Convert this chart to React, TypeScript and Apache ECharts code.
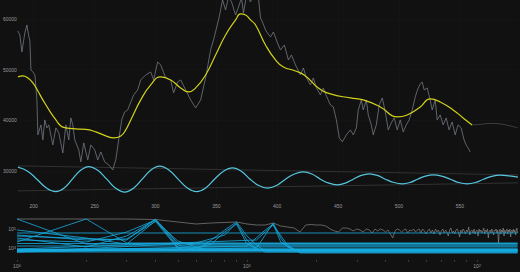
import React, { useEffect, useRef } from "react";
import * as echarts from "echarts";

// ---------- top panel data ----------
const topXTicks = [200, 250, 300, 350, 400, 450, 500, 550];
const topYTicks = [30000, 40000, 50000, 60000];

const rawSeries: [number, number][] = [
  [187, 57640], [188.6, 56850], [190.3, 53490], [192.7, 57240], [194.4, 58820], [196, 56450], [196.8, 55860],
  [197.7, 49940], [199.3, 49540], [201, 48950], [202.6, 44020], [203.4, 37110], [205.9, 39080], [207.5, 36120],
  [209.1, 40070], [210.8, 38490], [212.4, 39080], [215.7, 35130], [218.2, 38490], [220.6, 37500], [223.9, 33550],
  [226.4, 39080], [228.8, 36120], [230.5, 40460], [232.1, 39080], [233.7, 36120], [237, 34150], [238.7, 31780],
  [241.1, 35530], [244.4, 32170], [246.9, 35130], [250.1, 34150], [252.6, 32170], [255.1, 33750], [258.3, 31780],
  [261.6, 31180], [264.9, 30200], [267.4, 32170], [269.8, 36120], [272.3, 40070], [274.7, 41650], [277.2, 42040],
  [278.8, 43030], [282.1, 45000], [285.4, 45990], [287.9, 47960], [292, 48950], [296.1, 49540], [298.5, 47960],
  [301.8, 51520], [304.3, 50920], [308.4, 48360], [312.5, 47960], [314.9, 45400], [318.2, 47570], [320.7, 47960],
  [324.8, 45990], [328.9, 44020], [333, 42440], [337.1, 44020], [341.2, 48360], [345.3, 53890], [347.7, 55860],
  [351.8, 59810], [353.5, 61780], [355.1, 63760], [357.6, 61780], [360.1, 64350], [362.5, 63360], [365.8, 60790],
  [368.2, 62370], [370.7, 64150], [372.3, 61190], [374.8, 64740], [378.1, 63360], [381.3, 65330], [384.6, 64150],
  [386.3, 60200], [387.9, 59410], [390.4, 57830], [392, 57240], [394.5, 56450], [396.9, 57440], [400.2, 55270],
  [402.7, 53890], [405.9, 54870], [409.2, 51910], [411.7, 52900], [415, 50920], [419.1, 48950], [421.5, 50330],
  [424, 48360], [427.3, 46980], [429.7, 48360], [432.2, 46380], [435.5, 45000], [437.9, 46380], [440.4, 44810],
  [443.7, 43030], [446.1, 42630], [448.6, 40070], [451, 36540], [453.5, 35730], [456.8, 37110], [460.1, 38090],
  [462.5, 37110], [465, 38490], [466.6, 42040], [469.1, 44020], [470.7, 42040], [473.2, 44020], [474.8, 41050],
  [477.3, 39080], [478.9, 37110], [481.4, 39080], [483.8, 43030], [486.3, 44410], [488.8, 41650], [491.2, 38090],
  [493.7, 39480], [496.1, 40460], [498.6, 38090], [501.1, 40070], [503.5, 37700], [506, 39080], [508.4, 40070],
  [510.9, 42040], [513.4, 44610], [515.8, 46380], [517.5, 47170], [519.1, 47570], [520.7, 45990], [523.2, 46380],
  [525.7, 44020], [527.3, 42040], [529.8, 44020], [531.4, 40070], [533.9, 41050], [536.3, 39080], [538.8, 40460],
  [541.2, 38090], [543.7, 39670], [546.2, 37110], [548.6, 39080], [551.1, 38490], [553.5, 36120], [555.2, 35130],
  [556.8, 34540], [558.5, 33750],
];

const trendSeries: [number, number][] = [
  [187, 48560], [191.1, 48750], [195.2, 48360], [199.3, 47370], [203.4, 45790], [207.5, 44020], [214.1, 41450],
  [218.2, 40070], [222.3, 38880], [226.4, 38490], [234.6, 38290], [242.8, 38190], [251, 37700], [259.2, 36910],
  [265.7, 36510], [271.5, 36910], [275.6, 38090], [279.7, 40070], [287.9, 44020], [296.1, 46980], [304.3, 48560],
  [312.5, 47960], [320.7, 46380], [327.2, 45600], [333, 46380], [341.2, 48950], [349.4, 52900], [357.6, 56850],
  [365.8, 59810], [369.9, 60990], [374, 60790], [378.1, 59810], [382.2, 58820], [390.4, 54870], [398.6, 51910],
  [405.1, 50530], [415, 49740], [423.2, 48760], [433.8, 46380], [443.7, 45200], [460.1, 44410], [470.7, 44020],
  [484.7, 42630], [498.6, 40660], [506.8, 41050], [517.5, 42630], [525.7, 44210], [533.9, 43620], [544.5, 42040],
  [552.7, 40460], [560.1, 39080],
];

const forecastSeries: [number, number][] = [
  [560.1, 39080], [566.7, 39180], [574.9, 39380], [583.1, 39280], [591.3, 38880], [597.8, 38490],
];

const seasonalSeries: [number, number][] = [
  [187, 30730], [195, 29950], [202.6, 28360], [210.4, 26630], [218.2, 25910], [225, 26630], [231.7, 28360],
  [238.5, 30120], [245.2, 30850], [252.6, 30120], [260, 28360], [267.4, 26550], [274.7, 25800], [281.9, 26550],
  [289.1, 28360], [296.3, 30180], [303.4, 30930], [311, 30180], [318.6, 28360], [326.2, 26630], [333.8, 25910],
  [341.2, 26630], [348.5, 28360], [355.9, 29940], [363.3, 30590], [370.5, 29940], [377.7, 28360], [384.9, 27110],
  [392, 26590], [399.4, 27110], [406.8, 28360], [414.2, 29380], [421.5, 29800], [428.5, 29380], [435.5, 28360],
  [442.5, 27570], [449.4, 27240], [456, 27570], [462.5, 28360], [469, 29100], [475.6, 29410], [482.2, 29100],
  [488.8, 28360], [495.8, 27700], [502.7, 27430], [509.1, 27700], [515.4, 28360], [521.8, 28960], [528.1, 29210],
  [535.1, 28960], [542.1, 28360], [549.1, 27700], [556, 27430], [562.8, 27700], [569.5, 28360], [576.3, 28920],
  [583.1, 29150], [590.5, 29000], [597.8, 28760],
];

const upperEnvelope: [number, number][] = [[187, 30990], [597.8, 29210]];
const lowerEnvelope: [number, number][] = [[187, 26050], [597.8, 27630]];

// ---------- bottom panel data ----------
const bottomXLabels = [1, 10, 100];
const bottomXTicks = [1, 2, 3, 4, 5, 6, 7, 8, 9, 10, 20, 30, 40, 50, 60, 70, 80, 90, 100];
const bottomYLabels = [10000, 100000];

// periodogram power for frequency k = 1..150
const powerGray = [
  335700, 335700, 335700, 316000, 233500, 183300, 206900, 220000, 233500, 183300,
  162400, 162400, 206900, 143900, 127500, 112900, 69500, 162400, 172000, 162400,
  162400, 143900, 100000, 78500, 69500, 112900, 112900, 100000, 78500, 100000,
  88600, 69500, 100000, 88600, 61600, 100000, 78500, 100000, 88600, 69500,
  88600, 54600, 33600, 78500, 100000, 88600, 69500, 88600, 100000, 61600,
  88600, 78500, 100000, 69500, 88600, 100000, 61600, 100000, 78500, 54600,
  78500, 100000, 61600, 88600, 54600, 100000, 69500, 88600, 48300, 78500,
  100000, 61600, 88600, 69500, 42800, 88600, 113000, 61600, 78500, 54600,
  88600, 100000, 69500, 37900, 88600, 61600, 100000, 78500, 54600, 88600,
  69500, 128000, 48300, 78500, 88600, 61600, 100000, 54600, 78500, 88600,
  42800, 100000, 69500, 88600, 61600, 78500, 113000, 54600, 88600, 69500,
  100000, 33600, 78500, 88600, 61600, 100000, 69500, 48300, 88600, 78500,
  100000, 61600, 88600, 18300, 78500, 100000, 54600, 88600, 69500, 113000,
  42800, 88600, 61600, 78500, 100000, 54600, 88600, 69500, 100000, 37900,
  78500, 88600, 61600, 100000, 69500, 88600, 48300, 78500, 113000, 61600,
];

// component spectra: [frequency, power]
const componentSpectra: [number, number][][] = [
  [[1, 336000], [2, 16200], [150, 16200]],
  [[1, 20700], [2, 336000], [3, 18300], [150, 18300]],
  [[1, 61600], [150, 61600]],
  [[1, 17300], [3, 17300], [150, 17300]],
  [[1, 12700], [150, 12700]],
  [[1, 8860], [150, 8860]],
  [[1, 8300], [150, 8300]],
  [[1, 7850], [150, 7850]],
  [[1, 7400], [150, 7400]],
  [[1, 6950], [150, 6950]],
  [[1, 6160], [150, 6160]],
  [[1, 42800], [3, 26400], [4, 336000], [5, 18300], [6, 14400], [150, 14400]],
  [[1, 33600], [2, 11300], [3, 42800], [4, 298000], [5, 11300], [6, 8860], [150, 8860]],
  [[1, 26400], [2, 20700], [3, 69500], [4, 298000], [5, 14400], [7, 7850], [150, 7850]],
  [[1, 88600], [2, 33600], [3, 16200], [4, 264000], [5, 23400], [6, 11300], [150, 11300]],
  [[1, 48300], [2, 26400], [3, 30000], [4, 250000], [5, 9500], [6, 7400], [150, 7400]],
  [[1, 6950], [6, 7850], [7, 26400], [8, 88600], [9, 234000], [10, 42800], [11, 14400], [12, 6950], [150, 6950]],
  [[1, 6160], [6, 18300], [8, 48300], [9, 207000], [10, 26400], [11, 7850], [150, 7850]],
  [[1, 7850], [6, 10000], [7, 16200], [8, 69500], [9, 183000], [10, 16200], [12, 6160], [150, 6160]],
  [[1, 6160], [11, 10000], [12, 48300], [13, 207000], [14, 33600], [15, 11300], [17, 6160], [150, 6160]],
  [[1, 6950], [10, 12700], [12, 88600], [13, 183000], [14, 20700], [16, 7850], [150, 7850]],
  [[1, 8860], [11, 26400], [12, 69500], [13, 162000], [15, 14400], [17, 5460], [150, 5460]],
];

const FONT = "Liberation Sans";
const LABEL_COLOR = "#9a9a9a";

const powLabel = (v: number) => `{b|10}{s|${Math.round(Math.log10(v))}}`;
const powRich = {
  b: { fontSize: 5, color: LABEL_COLOR, fontFamily: FONT },
  s: { fontSize: 4, color: LABEL_COLOR, fontFamily: FONT, verticalAlign: "top" },
};

function buildOption() {
  const series: any[] = [
    { type: "line", xAxisIndex: 0, yAxisIndex: 0, data: upperEnvelope, symbol: "none", lineStyle: { color: "#3a3a3a", width: 0.8 } },
    { type: "line", xAxisIndex: 0, yAxisIndex: 0, data: lowerEnvelope, symbol: "none", lineStyle: { color: "#3a3a3a", width: 0.8 } },
    { type: "line", xAxisIndex: 0, yAxisIndex: 0, data: forecastSeries, symbol: "none", smooth: true, lineStyle: { color: "#444444", width: 0.9 } },
    { type: "line", xAxisIndex: 0, yAxisIndex: 0, data: rawSeries, symbol: "none", lineStyle: { color: "#737882", width: 0.8 } },
    { type: "line", xAxisIndex: 0, yAxisIndex: 0, data: trendSeries, symbol: "none", smooth: true, lineStyle: { color: "#d2d21c", width: 1.2 } },
    { type: "line", xAxisIndex: 0, yAxisIndex: 0, data: seasonalSeries, symbol: "none", smooth: 0.4, lineStyle: { color: "#55c6df", width: 1.2 } },
    {
      type: "line", xAxisIndex: 1, yAxisIndex: 1, symbol: "none",
      data: powerGray.map((p, i) => [i + 1, p]),
      lineStyle: { color: "#858585", width: 0.7 },
    },
  ];
  componentSpectra.forEach((d) => {
    series.push({
      type: "line", xAxisIndex: 1, yAxisIndex: 1, symbol: "none", data: d,
      lineStyle: { color: "#17ade2", width: 1, opacity: 0.8 },
    });
  });

  return {
    animation: false,
    backgroundColor: "#111111",
    grid: [
      { left: 17, right: 2, top: 0, bottom: 72 },
      { left: 17, right: 2, top: 217, bottom: 12 },
    ],
    xAxis: [
      {
        type: "value", gridIndex: 0, min: 187, max: 597.8,
        axisLine: { show: false },
        axisTick: { show: false, customValues: topXTicks },
        splitLine: { show: true, lineStyle: { color: "#181818", width: 0.6 } },
        axisLabel: { customValues: topXTicks, formatter: (v: number) => String(v), fontSize: 5, color: LABEL_COLOR, fontFamily: FONT, margin: 3 },
      },
      {
        type: "log", logBase: 10, gridIndex: 1, min: 1, max: 150.7,
        axisLine: { show: false },
        axisTick: { show: true, customValues: bottomXTicks, length: 2, lineStyle: { color: "#444444", width: 0.8 } },
        splitLine: { show: false },
        axisLabel: { customValues: bottomXLabels, formatter: powLabel, rich: powRich, margin: 3 },
      },
    ],
    yAxis: [
      {
        type: "value", gridIndex: 0, min: 24250, max: 63750,
        axisLine: { show: false },
        axisTick: { show: false, customValues: topYTicks },
        splitLine: { show: true, lineStyle: { color: "#181818", width: 0.6 } },
        axisLabel: { customValues: topYTicks, formatter: (v: number) => String(v), fontSize: 5, color: LABEL_COLOR, fontFamily: FONT, margin: 1 },
      },
      {
        type: "log", logBase: 10, gridIndex: 1, min: 2335, max: 428000,
        axisLine: { show: false },
        axisTick: { show: false },
        splitLine: { show: false },
        axisLabel: { customValues: bottomYLabels, formatter: powLabel, rich: powRich, margin: 1 },
      },
    ],
    series,
  };
}

export default function App() {
  const ref = useRef<HTMLDivElement>(null);
  useEffect(() => {
    if (!ref.current) return;
    const chart = echarts.init(ref.current, null, { renderer: "svg" });
    chart.setOption(buildOption() as any);
    return () => chart.dispose();
  }, []);
  return (
    <div
      ref={ref}
      style={{ position: "absolute", left: 0, top: 0, width: 520, height: 272, background: "#111111" }}
    />
  );
}
